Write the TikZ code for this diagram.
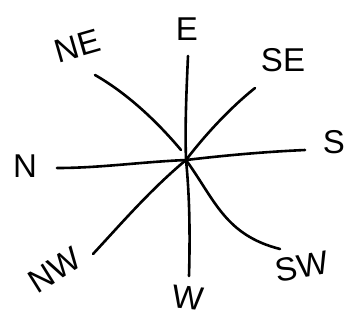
\documentclass[tikz,border=0pt]{standalone}
\usepackage{fontspec}
\setsansfont{Liberation Sans}
\usepackage{tikz}
\usetikzlibrary{calc,positioning}

\begin{document}
\begin{tikzpicture}[x=1pt, y=-1pt, font=\sffamily,
    ray/.style={line width=2.6pt, line cap=round, line join=round},
    lbl/.style={font=\sffamily\fontsize{33}{33}\selectfont, inner sep=0pt}]
    \useasboundingbox (0,0) rectangle (361,330);

    % Centro e estremi dei raggi
    \coordinate (c) at (186,160);
    \coordinate (e) at (188,56);
    \coordinate (se) at (255,88);
    \coordinate (s) at (305,150);
    \coordinate (sw) at (280,249);
    \coordinate (w) at (189,276);
    \coordinate (nw) at (93,254);
    \coordinate (n) at (57,168);
    \coordinate (ne) at (95,75);

    % Raggi
    \draw[ray] (e) .. controls (186,100) and (185,130) .. (c);
    \draw[ray] (se) .. controls (230,108) and (205,135) .. (c);
    \draw[ray] (s) .. controls (260,152) and (220,156) .. (c);
    \draw[ray] (c) .. controls (215,200) and (225,235) .. (sw);
    \draw[ray] (c) .. controls (190,200) and (190,240) .. (w);
    \draw[ray] (c) .. controls (150,190) and (120,225) .. (nw);
    \draw[ray] (c) .. controls (140,162) and (100,168) .. (n);
    \draw[ray] (ne) .. controls (130,95) and (160,125) .. (181,150);

    % Etichette
    \node[lbl] (le) at (187,29) {E};
    \node[lbl] (lse) at (283,60) {SE};
    \node[lbl] (ls) at (334,142) {S};
    \node[lbl, rotate=10] (lsw) at (302,267) {SW};
    \node[lbl, rotate=-6] (lw) at (188,298) {W};
    \node[lbl, rotate=32] (lnw) at (55,270) {NW};
    \node[lbl] (ln) at (25,166) {N};
    \node[lbl, rotate=16] (lne) at (77,46) {NE};
\end{tikzpicture}
\end{document}
